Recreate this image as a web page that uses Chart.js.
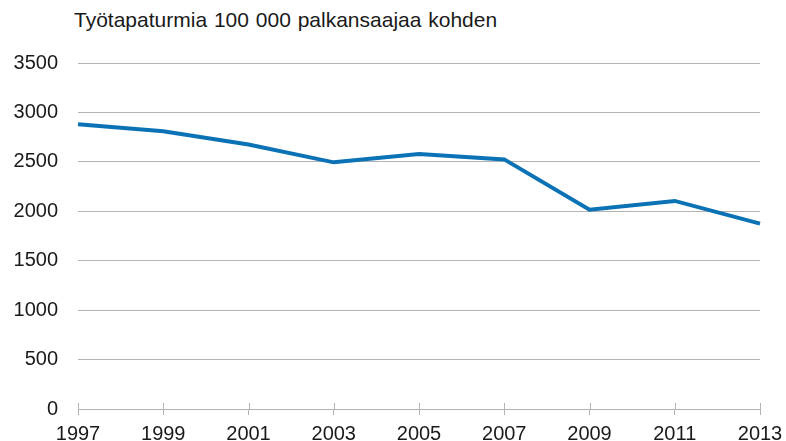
<!DOCTYPE html>
<html>
<head>
<meta charset="utf-8">
<script src="https://cdn.jsdelivr.net/npm/chart.js@4/dist/chart.umd.min.js"></script>
<style>
    html, body { margin: 0; padding: 0; background: #fff; }
    #wrap { position: relative; width: 786px; height: 441px; }
    #title {
        position: absolute; left: 74px; top: 8px;
        font-family: "Liberation Sans", Arial, sans-serif;
        font-size: 21px; color: #1a1a1a; white-space: pre;
        word-spacing: 1px;
    }
    canvas { position: absolute; left: 0; top: 0; }
</style>
</head>
<body>
<div id="wrap">
    <div id="title">Työtapaturmia 100 000 palkansaajaa kohden</div>
    <canvas id="chart" width="786" height="441"></canvas>
</div>
<script>
// Data
const years = ['1997', '1999', '2001', '2003', '2005', '2007', '2009', '2011', '2013'];
const accidents = [2880, 2810, 2675, 2495, 2580, 2525, 2015, 2105, 1875];
const yMin = 0;
const yMax = 3500;
const yStep = 500;

const gridColor = '#b3b3b3';
const textColor = '#1a1a1a';
const lineColor = '#0a72b5';
const fontFamily = '"Liberation Sans", Arial, sans-serif';

// Small tick marks above the x axis too (reference ticks cross the axis)
const crossTicks = {
    id: 'crossTicks',
    afterDraw(chart) {
        const x = chart.scales.x;
        const ctx = chart.ctx;
        const yAxis = chart.chartArea.bottom;
        ctx.save();
        ctx.strokeStyle = gridColor;
        ctx.lineWidth = 1;
        x.ticks.forEach((t, i) => {
            const px = Math.round(x.getPixelForTick(i)) + 0.5;
            ctx.beginPath();
            ctx.moveTo(px, yAxis - 6);
            ctx.lineTo(px, yAxis);
            ctx.stroke();
        });
        ctx.restore();
    }
};

new Chart(document.getElementById('chart'), {
    type: 'line',
    data: {
        labels: years,
        datasets: [{
            data: accidents,
            borderColor: lineColor,
            borderWidth: 4,
            pointRadius: 0,
            tension: 0,
            fill: false
        }]
    },
    options: {
        responsive: false,
        animation: false,
        layout: { padding: { top: 63, right: 26, left: 0, bottom: 0 } },
        plugins: {
            legend: { display: false },
            tooltip: { enabled: false }
        },
        scales: {
            x: {
                offset: false,
                grid: { drawOnChartArea: false, color: gridColor, tickLength: 6 },
                border: { color: gridColor },
                ticks: {
                    color: textColor,
                    padding: 7,
                    maxRotation: 0,
                    autoSkip: false,
                    font: { family: fontFamily, size: 20 }
                },
                afterFit(scale) {
                    scale.height = 31;
                    scale.paddingLeft = 0;
                    scale.paddingRight = 0;
                }
            },
            y: {
                min: yMin,
                max: yMax,
                grid: { color: gridColor, drawTicks: false },
                border: { display: false },
                ticks: {
                    stepSize: yStep,
                    color: textColor,
                    padding: 20,
                    font: { family: fontFamily, size: 20 },
                    callback: (v) => String(v)
                },
                afterFit(scale) { scale.width = 78; }
            }
        }
    },
    plugins: [crossTicks]
});
</script>
</body>
</html>
